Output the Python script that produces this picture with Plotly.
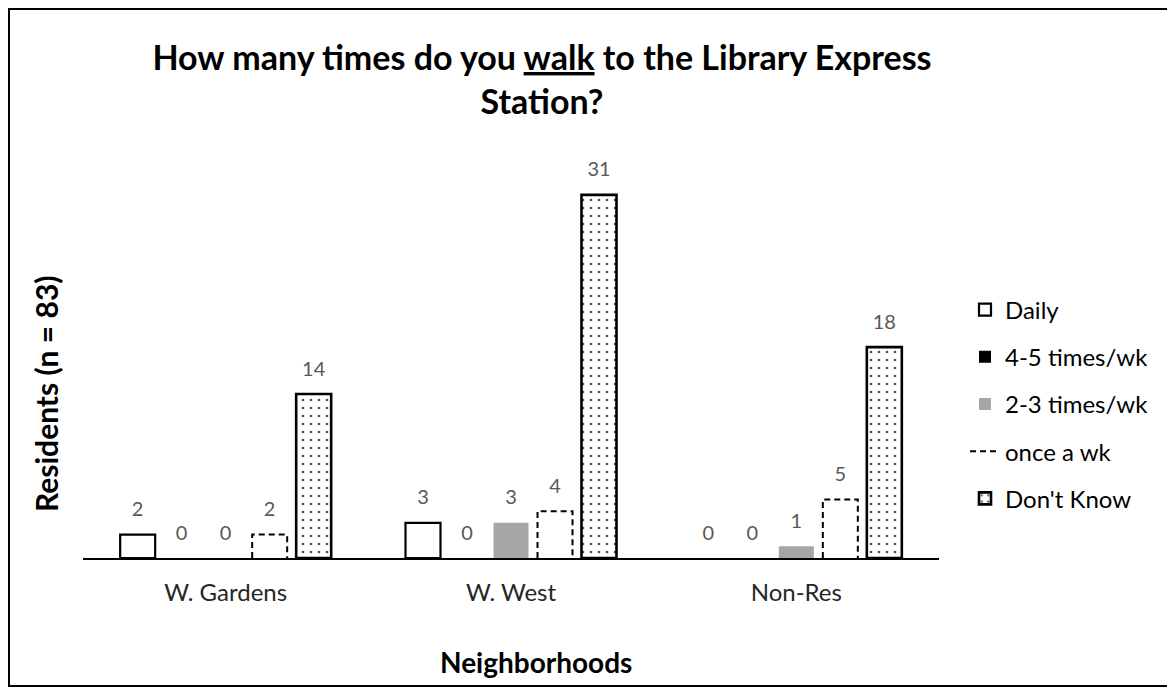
import plotly.graph_objects as go

# ---------------- data ----------------
neighborhoods = ["W. Gardens", "W. West", "Non-Res"]
series_names = ["Daily", "4-5 times/wk", "2-3 times/wk", "once a wk", "Don't Know"]
daily = [2, 3, 0]
four_five = [0, 0, 0]
two_three = [0, 3, 1]
once_wk = [2, 4, 5]
dont_know = [14, 31, 18]

title_text = ("<b>How many times do you <span style='text-decoration:underline'>walk</span>"
              " to the Library Express<br>Station?</b>")
y_title = "Residents (n = 83)"
x_title = "Neighborhoods"

# ---------------- layout helpers ----------------
W, H = 1167, 680               # page adds an 8px body margin
L, R, T, B = 75, 236, 140, 130
plot_w = W - L - R
plot_h = H - T - B
cat_px = plot_w / 3.0
slot = 44 / cat_px              # slot width in category units
bar_w = 35 / cat_px             # bar width in category units
FONT = "Lato"


def px_x(p):
    return (p - L) / plot_w


def px_y(p):
    return (H - B - p) / plot_h


group_idx = list(range(len(neighborhoods)))


def xs(series_i):
    return [g + (series_i - 2) * slot for g in group_idx]


def lw(vals, w):
    return [w if v > 0 else 0 for v in vals]


fig = go.Figure()

fig.add_trace(go.Bar(x=xs(0), y=daily, width=bar_w, name=series_names[0],
                     marker=dict(color="white", line=dict(color="black", width=lw(daily, 2.2))),
                     legendgroup="a", legendrank=1, hoverinfo="skip"))
fig.add_trace(go.Bar(x=xs(1), y=four_five, width=bar_w, name=series_names[1],
                     marker=dict(color="black", line=dict(width=0)),
                     legendgroup="b", legendrank=2, hoverinfo="skip"))
fig.add_trace(go.Bar(x=xs(2), y=two_three, width=bar_w, name=series_names[2],
                     marker=dict(color="#a6a6a6", line=dict(width=0)),
                     legendgroup="c", legendrank=3, hoverinfo="skip"))
fig.add_trace(go.Bar(x=xs(3), y=once_wk, width=bar_w, name=series_names[3],
                     marker=dict(color="white", line=dict(width=0)),
                     showlegend=False, hoverinfo="skip"))
ox, oy = [], []
for xc, v in zip(xs(3), once_wk):
    x0, x1 = xc - bar_w / 2, xc + bar_w / 2
    ox += [x0, x0, x1, x1, None]
    oy += [0, v, v, 0, None]
fig.add_trace(go.Scatter(x=ox, y=oy, mode="lines", name=series_names[3],
                         line=dict(color="black", width=2, dash="6px,4px"),
                         legendgroup="d", legendrank=4, hoverinfo="skip"))
fig.add_trace(go.Bar(x=xs(4), y=dont_know, width=bar_w, name=series_names[4],
                     marker=dict(color="white", line=dict(color="black", width=lw(dont_know, 2.6)),
                                 pattern=dict(shape=".", size=8, solidity=0.09,
                                              fgcolor="#505050", bgcolor="white",
                                              fillmode="replace")),
                     legendgroup="e", legendrank=5, hoverinfo="skip"))

# data labels
all_vals = [daily, four_five, two_three, once_wk, dont_know]
lx, ly, lt = [], [], []
for i, vals in enumerate(all_vals):
    for xc, v in zip(xs(i), vals):
        lx.append(xc)
        ly.append(v)
        lt.append(str(v))
fig.add_trace(go.Scatter(x=lx, y=ly, mode="markers+text", text=lt,
                         textposition="top center",
                         marker=dict(size=20, opacity=0),
                         textfont=dict(family=FONT, size=20, color="#595959"),
                         showlegend=False, hoverinfo="skip"))

fig.update_layout(
    width=W, height=H,
    margin=dict(l=L, r=R, t=T, b=B),
    paper_bgcolor="white", plot_bgcolor="white",
    barmode="overlay",
    font=dict(family=FONT, color="#404040"),
    title=dict(text=title_text, x=534 / W, xref="container", xanchor="center",
               y=1 - 62 / H, yref="container", yanchor="top",
               font=dict(family=FONT, size=34, color="black")),
    xaxis=dict(range=[-0.5, 2.5], tickmode="array", tickvals=group_idx,
               ticktext=neighborhoods, showgrid=False, zeroline=False,
               showline=True, linecolor="black", linewidth=2, ticks="",
               ticklabelstandoff=12,
               tickfont=dict(family=FONT, size=24, color="#262626")),
    yaxis=dict(range=[0, 35], showgrid=False, zeroline=False, showline=False,
               showticklabels=False, ticks=""),
    legend=dict(x=px_x(957), xanchor="left", y=px_y(396), yanchor="middle",
                traceorder="grouped", tracegroupgap=13,
                font=dict(family=FONT, size=24, color="black"),
                bgcolor="rgba(0,0,0,0)"),
    annotations=[
        dict(text="<b>" + y_title + "</b>", xref="paper", yref="paper",
             x=px_x(38), y=px_y(386), xanchor="center", yanchor="middle",
             textangle=-90, showarrow=False,
             font=dict(family=FONT, size=30, color="black")),
        dict(text="<b>" + x_title + "</b>", xref="paper", yref="paper",
             x=px_x(528), y=px_y(654), xanchor="center", yanchor="middle",
             showarrow=False,
             font=dict(family=FONT, size=28, color="black")),
    ],
    shapes=[dict(type="rect", xref="paper", yref="paper",
                 x0=px_x(1), x1=px_x(1165), y0=px_y(678), y1=px_y(1),
                 line=dict(color="black", width=2), fillcolor="rgba(0,0,0,0)",
                 layer="below")],
)

fig.write_html("out.html")
